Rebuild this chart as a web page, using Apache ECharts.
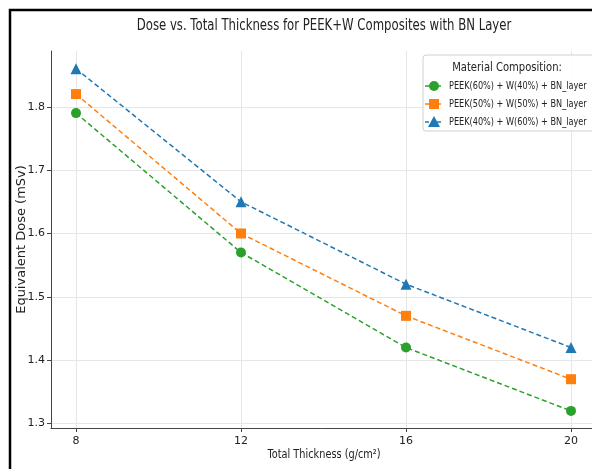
<!DOCTYPE html>
<html>
<head>
<meta charset="utf-8">
<script src="https://cdn.jsdelivr.net/npm/echarts@6/dist/echarts.min.js"></script>
<style>
  html, body { margin: 0; padding: 0; background: #fff; }
  #chart { width: 592px; height: 469px; }
</style>
</head>
<body>
<div id="chart"></div>
<script>
const thickness = [8, 12, 16, 20];
const seriesNames = [
    "PEEK(60%) + W(40%) + BN_layer",
    "PEEK(50%) + W(50%) + BN_layer",
    "PEEK(40%) + W(60%) + BN_layer",
];
const doseW40 = [1.79, 1.57, 1.42, 1.32];
const doseW50 = [1.82, 1.6, 1.47, 1.37];
const doseW60 = [1.86, 1.65, 1.52, 1.42];
const xTicks = [8, 12, 16, 20];
const yTicks = [1.3, 1.4, 1.5, 1.6, 1.7, 1.8];

const colors = ["#2ca02c", "#ff7f0e", "#1f77b4"];
const symbols = ["circle", "rect", "triangle"];
const FONT = "'DejaVu Sans', sans-serif";
const TEXT = "#222";

const chart = echarts.init(document.getElementById("chart"));

const makeSeries = (name, values, symbol, color) => ({
    name: name,
    type: "line",
    data: thickness.map((t, i) => [t, values[i]]),
    symbol: symbol,
    symbolSize: symbol === "triangle" ? 11 : 10,
    lineStyle: { color: color, width: 1.5, type: [5, 3] },
    itemStyle: { color: color },
    z: 3,
});

// legend is drawn by hand so its (squeezed) text can match the picture
const legendRowY = [86, 104, 122];
const legendMarker = (sym, cx, cy, color) => {
    if (sym === "circle") return { type: "circle", shape: { cx: cx, cy: cy, r: 5 }, style: { fill: color } };
    if (sym === "rect") return { type: "rect", shape: { x: cx - 5, y: cy - 5, width: 10, height: 10 }, style: { fill: color } };
    return { type: "polygon", shape: { points: [[cx, cy - 6], [cx - 6, cy + 5], [cx + 6, cy + 5]] }, style: { fill: color } };
};
const legendItems = [];
seriesNames.forEach((name, i) => {
    const y = legendRowY[i];
    legendItems.push({
        type: "line",
        shape: { x1: 425, y1: y, x2: 443, y2: y },
        style: { stroke: colors[i], lineWidth: 1.5, lineDash: [4, 2] },
        z: 101,
    });
    legendItems.push(Object.assign(legendMarker(symbols[i], 434, y, colors[i]), { z: 102 }));
    legendItems.push({
        type: "text",
        x: 449,
        y: y,
        scaleX: 0.74,
        style: { text: name, fontFamily: FONT, fontSize: 11, fill: TEXT, verticalAlign: "middle", align: "left" },
        z: 102,
    });
});

const option = {
    animation: false,
    backgroundColor: "#fff",
    grid: { left: 51, top: 51, width: 545, height: 377, outerBoundsMode: "none" },
    graphic: [
        {
            type: "text",
            x: 324,
            y: 26,
            scaleX: 0.78,
            style: {
                text: "Dose vs. Total Thickness for PEEK+W Composites with BN Layer",
                fontFamily: FONT, fontSize: 15, fill: TEXT, align: "center", verticalAlign: "middle",
            },
        },
        {
            type: "text",
            x: 324,
            y: 455,
            scaleX: 0.75,
            style: {
                text: "Total Thickness (g/cm²)",
                fontFamily: FONT, fontSize: 13, fill: TEXT, align: "center", verticalAlign: "middle",
            },
        },
        {
            type: "rect",
            shape: { x: 423, y: 55, width: 180, height: 76, r: 3 },
            style: { fill: "rgba(255,255,255,0.9)", stroke: "#d0d0d0", lineWidth: 1 },
            z: 100,
        },
        {
            type: "text",
            x: 507,
            y: 68,
            scaleX: 0.77,
            style: {
                text: "Material Composition:",
                fontFamily: FONT, fontSize: 13, fill: TEXT, align: "center", verticalAlign: "middle",
            },
            z: 102,
        },
        ...legendItems,
        {
            type: "rect",
            shape: { x: 10, y: 10, width: 700, height: 600 },
            style: { fill: "none", stroke: "#000", lineWidth: 2.5 },
            silent: true,
            z: 110,
        },
    ],
    xAxis: {
        type: "value",
        min: 7.394,
        max: 20.606,
        axisLine: { show: true, lineStyle: { color: "#444", width: 1 } },
        axisTick: { show: true, length: 4, customValues: xTicks, lineStyle: { color: "#444" } },
        axisLabel: { customValues: xTicks, fontFamily: FONT, fontSize: 11, color: TEXT, margin: 8 },
        splitLine: { show: true, lineStyle: { color: "#e6e6e6", width: 1 } },
    },
    yAxis: {
        type: "value",
        min: 1.293,
        max: 1.888,
        name: "Equivalent Dose (mSv)",
        nameLocation: "middle",
        nameGap: 23,
        nameMoveOverlap: false,
        nameTextStyle: { fontFamily: FONT, fontSize: 13, color: TEXT },
        axisLine: { show: true, lineStyle: { color: "#444", width: 1 } },
        axisTick: { show: true, length: 4, customValues: yTicks, lineStyle: { color: "#444" } },
        axisLabel: {
            customValues: yTicks,
            fontFamily: FONT,
            fontSize: 11,
            color: TEXT,
            margin: 6,
            formatter: (v) => v.toFixed(1),
        },
        splitLine: { show: true, lineStyle: { color: "#e6e6e6", width: 1 } },
    },
    series: [
        makeSeries(seriesNames[0], doseW40, symbols[0], colors[0]),
        makeSeries(seriesNames[1], doseW50, symbols[1], colors[1]),
        makeSeries(seriesNames[2], doseW60, symbols[2], colors[2]),
    ],
};

chart.setOption(option);
</script>
</body>
</html>
